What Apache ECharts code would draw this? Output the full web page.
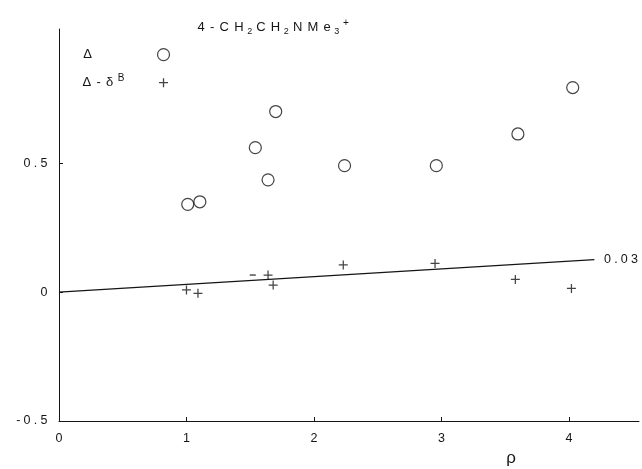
<!DOCTYPE html>
<html>
<head>
<meta charset="utf-8">
<script src="https://cdn.jsdelivr.net/npm/echarts@6/dist/echarts.min.js"></script>
<style>
  html, body { margin: 0; padding: 0; background: #fff; }
  #chart { width: 642px; height: 469px; }
</style>
</head>
<body>
<div id="chart"></div>
<script>
// Δ (open circles)
const deltaX = [1.01, 1.105, 1.54, 1.64, 1.70, 2.24, 2.96, 3.60, 4.03];
const deltaY = [0.34, 0.35, 0.56, 0.435, 0.70, 0.49, 0.49, 0.613, 0.793];
// Δ-δB (crosses); one point is printed as a short dash
const diffX = [1.00, 1.09, 1.52, 1.64, 1.68, 2.23, 2.95, 3.58, 4.02];
const diffY = [0.008, -0.005, 0.066, 0.066, 0.027, 0.105, 0.111, 0.049, 0.014];
const diffGlyph = ['+', '+', '-', '+', '+', '+', '+', '+', '+'];
// fitted line through the Δ-δB points, with its slope label
const fitX = [0, 4.2];
const fitY = [0, 0.126];
const fitLabel = '0.03';
// axis ticks
const yTicks = [-0.5, 0, 0.5];
const xTicks = [0, 1, 2, 3, 4];

const INK = '#151515';
const FONT = '"Liberation Sans", Arial, sans-serif';
const CROSS = 'path://M4.3,0H5.7V4.3H10V5.7H5.7V10H4.3V5.7H0V4.3H4.3Z';
// legend cross: same glyph, padded inside a 12x12 box so it stays small
const CROSS_ICON = 'path://M0,0h0.01v0.01h-0.01zM12,12h-0.01v-0.01h0.01z' +
                   'M5.35,1.5H6.65V5.35H10.5V6.65H6.65V10.5H5.35V6.65H1.5V5.35H5.35Z';

// wrap every character in its own rich token so the letters sit a little apart
function spaced(str, key) {
  return str.split('').map(ch => '{' + key + '|' + ch + '}').join('');
}
const base = { fontFamily: FONT, color: INK, fontWeight: 'normal' };
const rich = {
  c: Object.assign({ fontSize: 12.5, padding: [0, 1.6], lineHeight: 16 }, base),
  t: Object.assign({ fontSize: 13, padding: [0, 2.6], lineHeight: 16 }, base),
  s: Object.assign({ fontSize: 9, padding: [8, 1.5, 0, 1] }, base),
  p: Object.assign({ fontSize: 10, padding: [0, 1, 9, 2] }, base),
  // trailing spacers that push the legend symbols out to the right
  g1: Object.assign({ fontSize: 12, width: 58, lineHeight: 16 }, base),
  g2: Object.assign({ fontSize: 12, width: 27, lineHeight: 16 }, base)
};

const titleText = spaced('4-CH', 't') + '{s|2}' + spaced('CH', 't') + '{s|2}' +
                  spaced('NMe', 't') + '{s|3}' + '{p|+}';

const circlePts = deltaX.map((x, i) => [x, deltaY[i]]);
const crossPts = diffX.map((x, i) => diffGlyph[i] === '-'
  ? { value: [x, diffY[i]], symbol: 'rect', symbolSize: [6, 1.4] }
  : [x, diffY[i]]);
const fitPts = fitX.map((x, i) => [x, fitY[i]]);

const chart = echarts.init(document.getElementById('chart'), null, { renderer: 'canvas' });
chart.setOption({
  animation: false,
  backgroundColor: '#fff',
  title: {
    text: titleText,
    left: 190,
    top: 13,
    textStyle: { fontWeight: 'normal', rich: rich }
  },
  legend: {
    orient: 'vertical',
    left: 75,
    top: 43,
    align: 'right',
    itemWidth: 12,
    itemHeight: 12,
    itemGap: 12,
    selectedMode: false,
    data: [
      { name: 'Δ', itemStyle: { color: 'rgba(0,0,0,0)', borderColor: INK, borderWidth: 1.2 } },
      { name: 'Δ-δB', icon: CROSS_ICON, itemStyle: { color: INK, borderWidth: 0 } }
    ],
    formatter: function (name) {
      return name === 'Δ'
        ? spaced('Δ', 't') + '{g1| }'
        : spaced('Δ-δ', 't') + '{p|B}' + '{g2| }';
    },
    textStyle: { rich: rich }
  },
  grid: { left: 59, right: 3, top: 29, bottom: 48 },
  xAxis: {
    type: 'value',
    min: 0,
    max: 4.55,
    interval: 1,
    splitLine: { show: false },
    axisLine: { onZero: false, lineStyle: { color: INK, width: 1 } },
    axisTick: { inside: true, length: 4, customValues: xTicks, lineStyle: { color: INK } },
    axisLabel: {
      customValues: xTicks,
      margin: 10,
      formatter: v => spaced(String(v), 'c'),
      rich: rich
    },
    name: 'ρ',
    nameLocation: 'end',
    nameGap: -128,
    nameTextStyle: {
      fontFamily: FONT, fontSize: 17, color: INK,
      align: 'center', verticalAlign: 'top', padding: [29, 0, 0, 0]
    }
  },
  yAxis: {
    type: 'value',
    min: -0.5,
    max: 1.02,
    interval: 0.5,
    splitLine: { show: false },
    axisLine: { onZero: false, lineStyle: { color: INK, width: 1 } },
    axisTick: { inside: true, length: 4, customValues: yTicks, lineStyle: { color: INK } },
    axisLabel: {
      customValues: yTicks,
      margin: 10,
      formatter: v => spaced(String(v), 'c'),
      rich: rich
    }
  },
  series: [
    {
      name: 'fit',
      type: 'line',
      data: fitPts,
      symbol: 'none',
      silent: true,
      lineStyle: { color: INK, width: 1.2 },
      endLabel: {
        show: true,
        distance: 8,
        formatter: () => spaced(fitLabel, 'c'),
        rich: rich
      }
    },
    {
      name: 'Δ',
      type: 'scatter',
      data: circlePts,
      symbol: 'circle',
      symbolSize: 12,
      itemStyle: { color: 'rgba(0,0,0,0)', borderColor: INK, borderWidth: 1.2 }
    },
    {
      name: 'Δ-δB',
      type: 'scatter',
      data: crossPts,
      symbol: CROSS,
      symbolSize: 9,
      itemStyle: { color: INK }
    }
  ]
});
</script>
</body>
</html>
